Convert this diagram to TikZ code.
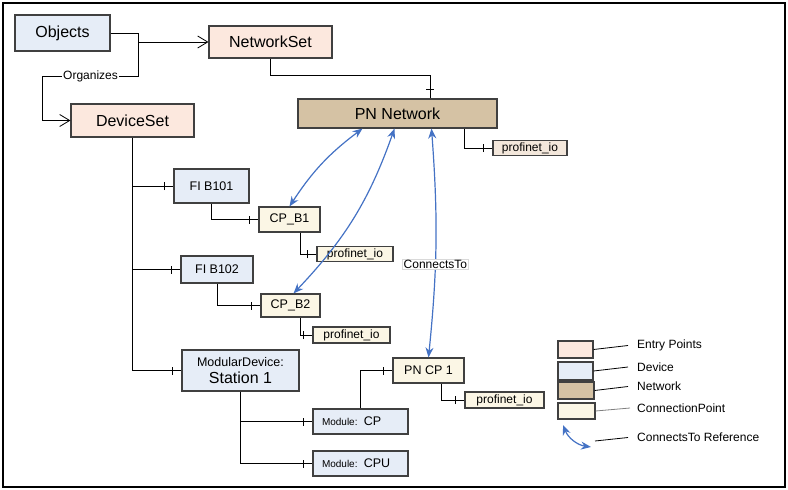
\documentclass[tikz,border=0pt]{standalone}
\usepackage{fontspec}
\setmainfont{Liberation Sans}
\usetikzlibrary{arrows.meta}
\usetikzlibrary{decorations.markings}

\definecolor{entryfill}{RGB}{252,232,222}
\definecolor{devfill}{RGB}{230,237,247}
\definecolor{netfill}{RGB}{213,194,164}
\definecolor{cpfill}{RGB}{251,246,229}
\definecolor{iofill}{RGB}{243,231,219}
\definecolor{refblue}{RGB}{68,114,196}
\definecolor{boxline}{RGB}{64,64,64}

\tikzset{
	box/.style={draw=boxline,line width=1.1pt,inner sep=0pt,align=center},
	entry/.style={box,fill=entryfill,font=\fontsize{16}{18}\selectfont},
	device/.style={box,fill=devfill,font=\fontsize{12.5}{14}\selectfont},
	network/.style={box,fill=netfill,font=\fontsize{16}{18}\selectfont},
	cpoint/.style={box,fill=cpfill,font=\fontsize{12.5}{14}\selectfont},
	ioport/.style={box,fill=cpfill,font=\fontsize{12}{13}\selectfont},
	module/.style={device,inner xsep=9pt,text width=77pt,align=left},
	tag/.style={fill=white,text=black,inner sep=1pt,font=\fontsize{12}{13}\selectfont},
	keytxt/.style={anchor=west,inner sep=1pt,font=\fontsize{12}{13}\selectfont},
	keyline/.style={line width=0.8pt},
	% tree lines with the small cross bar near the child
	conn/.style={line width=0.8pt,postaction={decorate,decoration={markings,
			mark=at position -9pt with {\draw[line width=0.8pt] (0,-4pt) -- (0,4pt);}}}},
	orgline/.style={line width=0.8pt,-{Straight Barb[length=10pt,width=12pt,line width=0.8pt]}},
	ref/.style={refblue,line width=1.2pt,{Stealth[length=10pt,width=8pt]}-{Stealth[length=10pt,width=8pt]}}
}

\begin{document}
\begin{tikzpicture}[x=1pt,y=-1pt]
	\useasboundingbox (0,0) rectangle (788,490);
	\draw[line width=1.2pt] (3,3) rectangle (785,487);

	% entry points
	\node[entry,fill=devfill,minimum width=95pt,minimum height=36pt] (objects) at (62.5,33) {Objects};
	\node[entry,minimum width=123pt,minimum height=32pt] (netset) at (270.5,42) {NetworkSet};
	\node[entry,minimum width=123pt,minimum height=33pt] (devset) at (132.5,120.5) {DeviceSet};

	% network side
	\node[network,minimum width=199pt,minimum height=29pt] (pnnet) at (397.5,113.5) {PN Network};
	\node[ioport,fill=iofill,minimum width=74pt,minimum height=15pt] (pio0) at (530,148) {profinet\_io};

	% devices
	\node[device,minimum width=75pt,minimum height=34pt] (fib101) at (211.5,186) {FI B101};
	\node[cpoint,minimum width=61pt,minimum height=25pt] (cpb1) at (289.5,219.5) {CP\_B1};
	\node[ioport,minimum width=76pt,minimum height=15pt] (pio1) at (355,254) {profinet\_io};
	\node[device,minimum width=72pt,minimum height=27pt] (fib102) at (217,269.5) {FI B102};
	\node[cpoint,minimum width=59pt,minimum height=23pt] (cpb2) at (290.5,305.5) {CP\_B2};
	\node[ioport,minimum width=77pt,minimum height=16pt] (pio2) at (351.5,335) {profinet\_io};
	\node[device,font=\fontsize{16}{17}\selectfont,minimum width=117pt,minimum height=41pt] (station) at (240.5,370.5)
		{{\fontsize{12.5}{13}\selectfont ModularDevice:}\\Station 1};
	\node[cpoint,minimum width=71pt,minimum height=25pt] (pncp) at (428.5,370.5) {PN CP 1};
	\node[ioport,minimum width=79pt,minimum height=16pt] (pio3) at (504.5,400) {profinet\_io};
	\node[module,minimum height=25pt] (modcp) at (360.5,421.5) {{\fontsize{10}{12}\selectfont Module:} CP};
	\node[module,minimum height=25pt] (modcpu) at (360.5,463.5) {{\fontsize{10}{12}\selectfont Module:} CPU};

	% Organizes
	\draw[orgline] (objects.east) -- ++(28,0) |- (netset.west);
	\draw[orgline] (objects.east) -- ++(28,0) -- ++(0,43)
		-- node[tag]{Organizes} ++(-96,0) |- (devset.west);

	% tree
	\draw[conn] (netset.south) -- ++(0,17) -| ([xshift=32.5pt]pnnet.north);
	\draw[conn] ([xshift=66.5pt]pnnet.south) |- (pio0.west);
	\draw[conn] (devset.south) |- (fib101.west);
	\draw[conn] (devset.south) |- (fib102.west);
	\draw[conn] (devset.south) |- (station.west);
	\draw[conn] (fib101.south) |- (cpb1.west);
	\draw[conn] ([xshift=10.5pt]cpb1.south) |- (pio1.west);
	\draw[conn] (fib102.south) |- (cpb2.west);
	\draw[conn] ([xshift=9.5pt]cpb2.south) |- (pio2.west);
	\draw[conn] (station.south) |- (modcp.west);
	\draw[conn] (station.south) |- (modcpu.west);
	\draw[conn] (modcp.north) |- (pncp.west);
	\draw[conn] ([xshift=12.5pt]pncp.south) |- (pio3.west);

	% ConnectsTo references
	\draw[ref] ([xshift=-35pt]pnnet.south) to[bend right=10] (cpb1.north);
	\draw[ref] ([xshift=-3pt]pnnet.south) to[bend left=12] ([xshift=3pt]cpb2.north);
	\draw[ref] ([xshift=34pt]pnnet.south) to[bend left=5]
		node[tag,pos=0.6,draw=gray!30,line width=0.5pt]{ConnectsTo} (pncp.north);

	% legend
	\node[box,fill=entryfill,minimum width=35pt,minimum height=17pt] (key1) at (575.5,349.5) {};
	\node[box,fill=devfill,minimum width=35pt,minimum height=18pt] (key2) at (575.5,371) {};
	\node[box,fill=netfill,minimum width=36pt,minimum height=17pt] (key3) at (576,390.5) {};
	\node[box,fill=cpfill,minimum width=37pt,minimum height=16pt] (key4) at (576.5,411) {};
	\coordinate (keya) at (563,425);
	\coordinate (keyb) at (591,447);
	\coordinate (keyc) at (595,441);
	\node[keytxt] (txt1) at (636,345.5) {Entry Points};
	\node[keytxt] (txt2) at (636,367) {Device};
	\node[keytxt] (txt3) at (636,386.5) {Network};
	\node[keytxt] (txt4) at (636,408) {ConnectionPoint};
	\node[keytxt] (txt5) at (636,437.5) {ConnectsTo Reference};
	\draw[keyline] (key1.east) -- ([xshift=-8pt]txt1.west);
	\draw[keyline] (key2.east) -- ([xshift=-8pt]txt2.west);
	\draw[keyline] (key3.east) -- ([xshift=-8pt]txt3.west);
	\draw[keyline,gray] (key4.east) -- ([xshift=-6pt]txt4.west);
	\draw[ref] (keya) to[bend right=30] (keyb);
	\draw[keyline] (keyc) -- ([xshift=-8pt]txt5.west);
\end{tikzpicture}
\end{document}
